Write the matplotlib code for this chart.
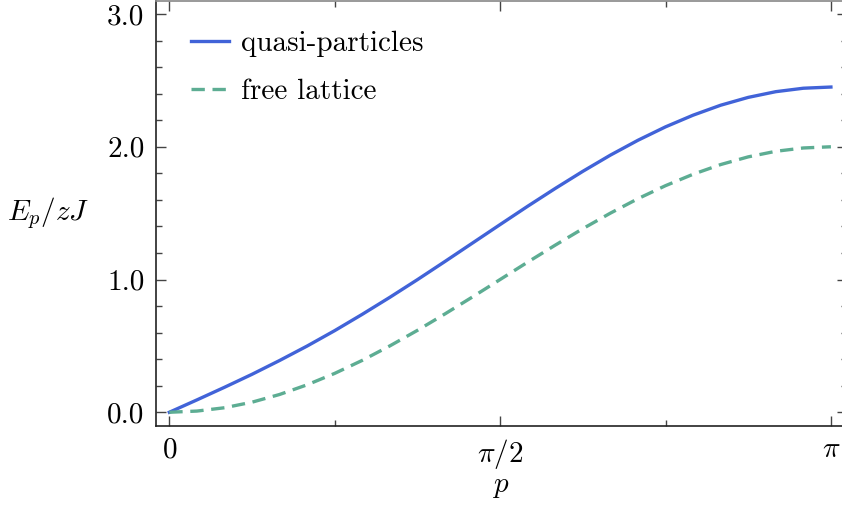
import numpy as np
import matplotlib
matplotlib.use("Agg")
from matplotlib import pyplot as plt
from matplotlib.ticker import FixedLocator, MultipleLocator

plt.rcParams['font.family'] = ['cmr10', 'DejaVu Serif']
plt.rcParams['mathtext.fontset'] = 'cm'
plt.rcParams['axes.formatter.use_mathtext'] = True
plt.rcParams['axes.unicode_minus'] = False

# momentum grid, steps of pi/24
p = np.pi * np.arange(25) / 24

quasi = [0.0, 0.093, 0.188, 0.286, 0.390, 0.499, 0.615, 0.738, 0.866,
         0.999, 1.136, 1.275, 1.414, 1.552, 1.686, 1.815, 1.937, 2.049,
         2.150, 2.238, 2.313, 2.372, 2.415, 2.441, 2.450]
free = [0.0, 0.009, 0.034, 0.076, 0.134, 0.207, 0.293, 0.391, 0.500,
        0.617, 0.741, 0.869, 1.000, 1.131, 1.259, 1.383, 1.500, 1.609,
        1.707, 1.793, 1.866, 1.924, 1.966, 1.991, 2.000]

x_ticks = [0, np.pi / 2, np.pi]
x_labels = ['$0$', r'$\pi/2$', r'$\pi$']
y_ticks = [0.0, 1.0, 2.0, 3.0]
y_labels = ['0.0', '1.0', '2.0', '3.0']

fig = plt.figure(figsize=(8.42, 5.07), dpi=100)
ax = fig.add_axes([0.1849, 0.1604, 0.8205, 0.8376])

ax.plot(p, quasi, color='#4163d8', lw=2.4, label='quasi-particles')
ax.plot(p, free, color='#5dad93', lw=2.4, dashes=(4.0, 2.3), label='free lattice')

ax.set_xlim(-0.0647, np.pi + 0.0742)
ax.set_ylim(-0.101, 3.098)

ax.set_xticks(x_ticks)
ax.set_xticklabels(x_labels)
ax.xaxis.set_minor_locator(FixedLocator([np.pi / 4, 3 * np.pi / 4]))
ax.set_yticks(y_ticks)
ax.set_yticklabels(y_labels)
ax.yaxis.set_minor_locator(MultipleLocator(0.2))

ax.tick_params(which='both', direction='in', top=True, right=True,
               color='#444444', width=1.0, labelsize=21)
ax.tick_params(which='major', length=7.5)
ax.tick_params(which='minor', length=4)
ax.tick_params(axis='x', pad=8)
ax.tick_params(axis='y', pad=8)

for side in ['left', 'bottom']:
    ax.spines[side].set_color('#222222')
    ax.spines[side].set_linewidth(1.2)
for side in ['top', 'right']:
    ax.spines[side].set_color('#888888')
    ax.spines[side].set_linewidth(1.2)

ax.set_xlabel('$p$', fontsize=21, va='center')
ax.xaxis.set_label_coords(0.5, -0.143)
ax.set_ylabel('$E_p/zJ$', fontsize=21, rotation=0, ha='right', va='center')
ax.yaxis.set_label_coords(-0.0955, 0.5)

ax.legend(loc='upper left', bbox_to_anchor=(0.051, 0.931), frameon=False,
          fontsize=21, handlelength=1.3, handletextpad=0.43,
          labelspacing=0.74, borderaxespad=0.0, borderpad=0.0)

fig.savefig('out.png', dpi=100)
